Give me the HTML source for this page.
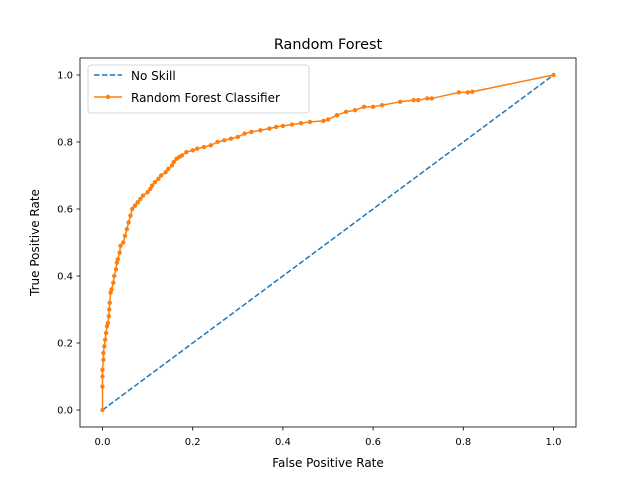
<!DOCTYPE html>
<html><head><meta charset="utf-8"><style>
body{margin:0;background:#fff}
svg{display:block;font-family:"DejaVu Sans","Liberation Sans",sans-serif}
</style></head><body>
<svg id="chart" width="640" height="480" viewBox="0 0 640 480">
<rect width="640" height="480" fill="#fff"/>
<text x="328" y="49" font-size="14.4" text-anchor="middle">Random Forest</text>
<g id="plot"></g>
<rect x="80" y="58" width="496" height="369" fill="none" stroke="#000" stroke-width="0.8"/>
<text x="328" y="467" font-size="12" text-anchor="middle">False Positive Rate</text>
<text transform="translate(39,242.5) rotate(-90)" font-size="12" text-anchor="middle">True Positive Rate</text>
<g>
<rect x="88" y="65" width="221" height="48" rx="3" fill="#fff" fill-opacity="0.8" stroke="#ccc" stroke-width="0.8"/>
<line x1="94" y1="75" x2="122" y2="75" stroke="#1f77b4" stroke-width="1.5" stroke-dasharray="5.5,2.4"/>
<text x="131" y="80" font-size="12">No Skill</text>
<line x1="94" y1="97" x2="122" y2="97" stroke="#ff7f0e" stroke-width="1.5"/>
<circle cx="108" cy="97" r="2.2" fill="#ff7f0e"/>
<text x="131" y="102" font-size="12">Random Forest Classifier</text>
</g>
</svg>
<script>
const xTicks=[0,0.2,0.4,0.6,0.8,1.0];
const yTicks=[0,0.2,0.4,0.6,0.8,1.0];
const tickLabels=["0.0","0.2","0.4","0.6","0.8","1.0"];
const noSkillFpr=[0,1];
const noSkillTpr=[0,1];
const rfFpr=[0,0,0,0,0.002,0.002,0.004,0.006,0.008,0.01,0.012,0.014,0.015,0.016,0.018,0.02,0.024,0.026,0.03,0.032,0.034,0.038,0.04,0.046,0.05,0.054,0.058,0.062,0.066,0.072,0.078,0.084,0.09,0.1,0.106,0.11,0.116,0.124,0.13,0.14,0.146,0.154,0.158,0.164,0.17,0.176,0.186,0.2,0.21,0.225,0.24,0.255,0.27,0.285,0.3,0.315,0.33,0.35,0.37,0.385,0.4,0.42,0.44,0.46,0.49,0.5,0.52,0.54,0.56,0.58,0.6,0.62,0.66,0.69,0.7,0.72,0.73,0.79,0.81,0.82,1];
const rfTpr=[0,0.07,0.1,0.12,0.15,0.17,0.19,0.21,0.23,0.25,0.26,0.28,0.3,0.32,0.35,0.36,0.38,0.4,0.42,0.44,0.45,0.47,0.49,0.5,0.52,0.54,0.56,0.58,0.6,0.61,0.62,0.63,0.64,0.65,0.66,0.67,0.68,0.69,0.7,0.71,0.72,0.73,0.74,0.75,0.755,0.76,0.77,0.775,0.78,0.785,0.79,0.8,0.805,0.81,0.815,0.825,0.83,0.835,0.84,0.845,0.848,0.852,0.856,0.86,0.863,0.867,0.88,0.89,0.895,0.905,0.905,0.91,0.92,0.925,0.925,0.93,0.93,0.948,0.948,0.95,1];
const NS="http://www.w3.org/2000/svg";
const X=v=>102.5+v*451;
const Y=v=>410-v*335;
const g=document.getElementById('plot');
function mk(t,a){const e=document.createElementNS(NS,t);for(const k in a)e.setAttribute(k,a[k]);g.appendChild(e);return e;}
xTicks.forEach((v,i)=>{
  const l=mk('line',{x1:X(v),x2:X(v),y1:427,y2:430.5,stroke:'#000','stroke-width':0.8});
  
  
  const t=mk('text',{x:X(v),y:445,'font-size':10,'text-anchor':'middle'});t.textContent=tickLabels[i];
  
  
});
yTicks.forEach((v,i)=>{
  const l=mk('line',{x1:76.5,x2:80,y1:Y(v),y2:Y(v),stroke:'#000','stroke-width':0.8});
  
  
  const t=mk('text',{x:73,y:Y(v)+3.5,'font-size':10,'text-anchor':'end'});t.textContent=tickLabels[i];
  
  
});
const ns=mk('polyline',{points:noSkillFpr.map((v,i)=>X(v)+','+Y(noSkillTpr[i])).join(' '),fill:'none',stroke:'#1f77b4','stroke-width':1.5,'stroke-dasharray':'5.5,2.4'});


const rf=mk('polyline',{points:rfFpr.map((v,i)=>X(v)+','+Y(rfTpr[i])).join(' '),fill:'none',stroke:'#ff7f0e','stroke-width':1.5,'stroke-linejoin':'round'});


rfFpr.forEach((v,i)=>{
  const c=mk('circle',{cx:X(v),cy:Y(rfTpr[i]),r:2.2,fill:'#ff7f0e'});
  
  
});
</script>
</body></html>
